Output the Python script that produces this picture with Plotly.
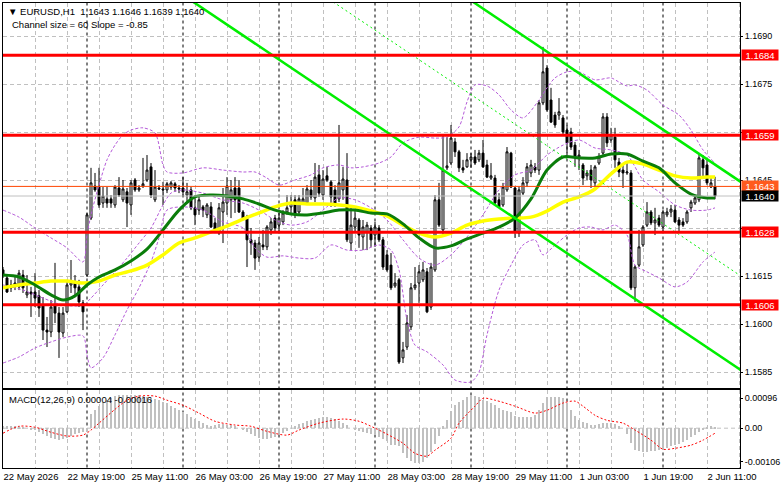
import plotly.graph_objects as go

FONT = "Liberation Sans, Arial, sans-serif"

# ---------------- data (EURUSD H1) ----------------
bars = list(range(179))

open_ = [1.16169,1.16144,1.16113,1.16122,1.16116,1.16153,1.16091,1.16100,1.16100,1.16088,
         1.16059,1.15981,1.15975,1.16059,1.16034,1.15972,1.16038,1.16122,1.16131,1.16116,
         1.16066,1.16153,1.16331,1.16431,1.16428,1.16378,1.16391,1.16391,1.16372,1.16425,
         1.16388,1.16413,1.16372,1.16450,1.16419,1.16431,1.16450,1.16491,1.16388,1.16425,
         1.16422,1.16419,1.16428,1.16438,1.16425,1.16425,1.16403,1.16419,1.16363,1.16356,
         1.16366,1.16341,1.16366,1.16316,1.16284,1.16350,1.16378,1.16388,1.16425,1.16425,
         1.16350,1.16331,1.16263,1.16253,1.16209,1.16247,1.16241,1.16294,1.16331,1.16309,
         1.16319,1.16350,1.16366,1.16388,1.16350,1.16378,1.16378,1.16419,1.16394,1.16466,
         1.16403,1.16463,1.16444,1.16419,1.16391,1.16419,1.16450,1.16253,1.16303,1.16325,
         1.16272,1.16288,1.16300,1.16278,1.16300,1.16263,1.16216,1.16184,1.16119,1.16138,
         1.15894,1.15928,1.15991,1.16113,1.16128,1.16138,1.16163,1.16053,1.16169,1.16388,
         1.16294,1.16488,1.16503,1.16569,1.16538,1.16488,1.16491,1.16513,1.16522,1.16513,
         1.16534,1.16497,1.16456,1.16456,1.16388,1.16372,1.16419,1.16534,1.16425,1.16284,
         1.16409,1.16441,1.16472,1.16491,1.16481,1.16691,1.16800,1.16700,1.16653,1.16653,
         1.16644,1.16606,1.16600,1.16559,1.16522,1.16497,1.16463,1.16481,1.16441,1.16503,
         1.16534,1.16647,1.16575,1.16584,1.16506,1.16481,1.16472,1.16472,1.16113,1.16184,
         1.16247,1.16309,1.16350,1.16316,1.16331,1.16303,1.16341,1.16350,1.16356,1.16325,
         1.16319,1.16319,1.16363,1.16378,1.16388,1.16513,1.16497,1.16428,1.16430]

high = [1.16178,1.16153,1.16138,1.16147,1.16169,1.16169,1.16153,1.16116,1.16159,1.16106,
        1.16084,1.16022,1.16075,1.16191,1.16053,1.16053,1.16138,1.16200,1.16153,1.16138,
        1.16075,1.16347,1.16488,1.16472,1.16488,1.16428,1.16428,1.16403,1.16434,1.16459,
        1.16450,1.16425,1.16450,1.16456,1.16434,1.16519,1.16528,1.16503,1.16481,1.16434,
        1.16444,1.16444,1.16447,1.16444,1.16434,1.16459,1.16441,1.16428,1.16403,1.16403,
        1.16372,1.16378,1.16381,1.16331,1.16378,1.16425,1.16459,1.16450,1.16459,1.16450,
        1.16356,1.16341,1.16300,1.16263,1.16272,1.16294,1.16309,1.16331,1.16341,1.16347,
        1.16356,1.16403,1.16403,1.16403,1.16403,1.16425,1.16434,1.16450,1.16503,1.16497,
        1.16481,1.16491,1.16450,1.16434,1.16622,1.16491,1.16534,1.16363,1.16356,1.16331,
        1.16325,1.16319,1.16309,1.16319,1.16309,1.16272,1.16231,1.16222,1.16159,1.16144,
        1.15944,1.16028,1.16128,1.16178,1.16184,1.16194,1.16175,1.16191,1.16403,1.16441,
        1.16591,1.16584,1.16622,1.16581,1.16544,1.16513,1.16534,1.16534,1.16544,1.16544,
        1.16575,1.16513,1.16503,1.16466,1.16409,1.16441,1.16553,1.16538,1.16428,1.16428,
        1.16459,1.16503,1.16513,1.16503,1.16700,1.16866,1.16809,1.16738,1.16663,1.16706,
        1.16653,1.16622,1.16613,1.16569,1.16544,1.16503,1.16481,1.16497,1.16497,1.16534,
        1.16659,1.16659,1.16613,1.16613,1.16519,1.16503,1.16506,1.16481,1.16184,1.16294,
        1.16309,1.16381,1.16356,1.16363,1.16341,1.16356,1.16363,1.16372,1.16372,1.16334,
        1.16331,1.16356,1.16388,1.16403,1.16534,1.16528,1.16513,1.16459,1.16460]

low = [1.16144,1.16097,1.16100,1.16106,1.16106,1.16097,1.16081,1.16022,1.16053,1.16022,
       1.15950,1.15928,1.15959,1.16003,1.15894,1.15959,1.16034,1.16097,1.16084,1.16053,
       1.15981,1.16147,1.16325,1.16413,1.16363,1.16363,1.16363,1.16363,1.16363,1.16397,
       1.16381,1.16303,1.16341,1.16413,1.16413,1.16425,1.16444,1.16394,1.16381,1.16419,
       1.16372,1.16409,1.16419,1.16413,1.16409,1.16397,1.16378,1.16356,1.16309,1.16341,
       1.16334,1.16331,1.16300,1.16284,1.16278,1.16253,1.16341,1.16331,1.16347,1.16347,
       1.16325,1.16178,1.16216,1.16169,1.16194,1.16231,1.16231,1.16278,1.16288,1.16284,
       1.16309,1.16341,1.16347,1.16331,1.16341,1.16372,1.16375,1.16388,1.16381,1.16397,
       1.16388,1.16444,1.16366,1.16366,1.16381,1.16388,1.16256,1.16231,1.16288,1.16238,
       1.16231,1.16231,1.16241,1.16241,1.16256,1.16169,1.16163,1.16106,1.16113,1.15875,
       1.15878,1.15919,1.15981,1.16106,1.16066,1.16131,1.16034,1.16044,1.16163,1.16303,
       1.16272,1.16481,1.16497,1.16522,1.16475,1.16472,1.16488,1.16488,1.16497,1.16506,
       1.16488,1.16456,1.16450,1.16372,1.16363,1.16366,1.16413,1.16425,1.16269,1.16272,
       1.16403,1.16428,1.16459,1.16472,1.16466,1.16684,1.16663,1.16628,1.16613,1.16638,
       1.16591,1.16534,1.16544,1.16491,1.16481,1.16434,1.16450,1.16425,1.16428,1.16497,
       1.16528,1.16553,1.16566,1.16488,1.16459,1.16425,1.16466,1.16106,1.16069,1.16178,
       1.16241,1.16303,1.16309,1.16278,1.16303,1.16288,1.16334,1.16334,1.16316,1.16288,
       1.16303,1.16313,1.16350,1.16372,1.16381,1.16456,1.16434,1.16425,1.16390]

close = [1.16153,1.16100,1.16122,1.16128,1.16159,1.16113,1.16100,1.16094,1.16081,1.16050,
         1.15981,1.15975,1.16053,1.16034,1.15975,1.16034,1.16122,1.16131,1.16113,1.16069,
         1.16038,1.16341,1.16441,1.16419,1.16372,1.16400,1.16378,1.16378,1.16428,1.16403,
         1.16422,1.16378,1.16441,1.16419,1.16425,1.16438,1.16481,1.16403,1.16428,1.16422,
         1.16419,1.16438,1.16441,1.16425,1.16422,1.16413,1.16413,1.16363,1.16341,1.16388,
         1.16356,1.16372,1.16303,1.16288,1.16363,1.16381,1.16431,1.16419,1.16388,1.16350,
         1.16331,1.16263,1.16253,1.16206,1.16253,1.16241,1.16303,1.16319,1.16300,1.16331,
         1.16347,1.16363,1.16378,1.16341,1.16391,1.16391,1.16422,1.16397,1.16459,1.16409,
         1.16453,1.16450,1.16397,1.16378,1.16441,1.16453,1.16263,1.16309,1.16331,1.16278,
         1.16303,1.16309,1.16263,1.16303,1.16263,1.16178,1.16169,1.16113,1.16128,1.15881,
         1.15919,1.16003,1.16113,1.16122,1.16163,1.16169,1.16038,1.16178,1.16388,1.16309,
         1.16481,1.16494,1.16581,1.16538,1.16488,1.16481,1.16513,1.16522,1.16503,1.16534,
         1.16491,1.16459,1.16463,1.16378,1.16366,1.16428,1.16538,1.16428,1.16288,1.16419,
         1.16441,1.16491,1.16497,1.16481,1.16691,1.16788,1.16669,1.16631,1.16622,1.16663,
         1.16600,1.16566,1.16553,1.16522,1.16528,1.16456,1.16472,1.16450,1.16491,1.16522,
         1.16647,1.16566,1.16591,1.16513,1.16475,1.16472,1.16475,1.16113,1.16178,1.16241,
         1.16303,1.16350,1.16316,1.16325,1.16309,1.16350,1.16350,1.16359,1.16319,1.16309,
         1.16309,1.16350,1.16381,1.16394,1.16519,1.16488,1.16441,1.16441,1.16400]

# moving averages (read at sample bars)
ma_green_bars = [0,4,8,12,15,18,21,24,28,32,36,40,44,48,52,56,60,64,68,72,76,80,84,88,92,96,
                 100,104,108,112,116,120,124,128,132,136,140,144,148,152,156,160,164,168,172,176,178]
ma_green_vals = [1.16153,1.16147,1.16122,1.16091,1.16075,1.16088,1.16122,1.16147,1.16169,1.16197,
                 1.16234,1.16294,1.16356,1.16397,1.16403,1.16400,1.16391,1.16375,1.16356,1.16344,
                 1.16341,1.16347,1.16356,1.16356,1.16347,1.16344,1.16313,1.16269,1.16238,1.16244,
                 1.16266,1.16284,1.16303,1.16331,1.16391,1.16481,1.16522,1.16519,1.16519,1.16531,
                 1.16531,1.16509,1.16488,1.16441,1.16406,1.16394,1.16394]

ma_yellow_bars = [0,4,8,12,16,20,24,28,32,36,40,44,48,52,56,60,64,68,72,76,80,84,88,92,96,
                  100,104,108,112,116,120,124,128,132,136,140,144,148,152,156,160,164,168,172,176,178]
ma_yellow_vals = [1.16113,1.16122,1.16128,1.16134,1.16134,1.16128,1.16134,1.16153,1.16166,1.16184,
                  1.16216,1.16253,1.16269,1.16288,1.16306,1.16328,1.16347,1.16366,1.16378,1.16375,
                  1.16375,1.16372,1.16366,1.16353,1.16338,1.16309,1.16284,1.16272,1.16284,1.16309,
                  1.16322,1.16328,1.16331,1.16334,1.16353,1.16381,1.16397,1.16422,1.16469,1.16506,
                  1.16500,1.16481,1.16463,1.16456,1.16459,1.16459]

# Bollinger bands (read at sample bars)
bb_up_bars = [0,4,8,12,16,20,21,22,24,26,28,30,32,35,38,40,41,45,50,55,60,63,66,69,73,77,80,84,87,90,
              94,97,100,104,108,111,114,116,118,121,124,127,130,134,136,138,141,144,148,152,154,156,
              158,161,165,169,172,175,178]
bb_up_vals = [1.16356,1.16334,1.16300,1.16269,1.16238,1.16194,1.16278,1.16341,1.16434,1.16513,
              1.16559,1.16591,1.16606,1.16613,1.16597,1.16497,1.16475,1.16472,1.16488,1.16481,
              1.16475,1.16475,1.16456,1.16434,1.16450,1.16466,1.16488,1.16497,1.16488,1.16491,
              1.16503,1.16522,1.16566,1.16584,1.16581,1.16584,1.16616,1.16694,1.16747,1.16744,
              1.16716,1.16669,1.16644,1.16700,1.16738,1.16769,1.16788,1.16788,1.16763,1.16769,
              1.16756,1.16744,1.16747,1.16731,1.16684,1.16653,1.16606,1.16544,1.16503]

bb_mid_bars = [0,5,10,15,20,22,25,28,31,34,37,40,42,45,50,55,60,64,68,72,76,80,84,88,92,96,
               100,104,108,112,116,120,124,128,132,136,140,144,148,152,156,160,164,168,172,176,178]
bb_mid_vals = [1.16122,1.16106,1.16081,1.16059,1.16059,1.16081,1.16122,1.16163,1.16206,1.16253,
               1.16300,1.16372,1.16409,1.16419,1.16409,1.16388,1.16378,1.16356,1.16325,1.16309,
               1.16319,1.16356,1.16394,1.16388,1.16363,1.16325,1.16263,1.16206,1.16184,1.16216,
               1.16272,1.16341,1.16419,1.16466,1.16481,1.16528,1.16559,1.16575,1.16550,1.16544,
               1.16528,1.16450,1.16413,1.16372,1.16356,1.16356,1.16363]

bb_low_bars = [0,4,8,12,16,20,21,22,25,28,31,34,37,39,41,45,50,55,60,63,66,70,74,78,82,86,90,94,97,
               99,101,103,106,110,113,117,119,121,124,127,130,133,135,138,141,144,147,150,153,156,
               158,161,164,168,171,175,178]
bb_low_vals = [1.15878,1.15897,1.15925,1.15944,1.15959,1.15963,1.15903,1.15863,1.15894,1.15966,
               1.16044,1.16113,1.16194,1.16269,1.16356,1.16366,1.16356,1.16319,1.16300,1.16238,
               1.16209,1.16213,1.16206,1.16206,1.16247,1.16231,1.16231,1.16247,1.16231,1.16169,
               1.16013,1.15934,1.15913,1.15872,1.15825,1.15819,1.15850,1.15966,1.16106,1.16184,
               1.16247,1.16263,1.16216,1.16247,1.16278,1.16300,1.16303,1.16294,1.16309,1.16278,
               1.16184,1.16163,1.16144,1.16116,1.16131,1.16194,1.16225]

# MACD(12,26,9)
macd_hist = [0.00006,0.00006,0.00006,0.00006,0.00006,0.00003,0.0,-0.00003,-0.00006,-0.00013,
             -0.00019,-0.00025,-0.00032,-0.00035,-0.00038,-0.00035,-0.00032,-0.00025,-0.00019,-0.00016,
             -0.00013,-0.0001,0.00045,0.00057,0.0007,0.00083,0.00089,0.00095,0.00102,0.00105,
             0.00105,0.00105,0.00105,0.00105,0.00105,0.00102,0.00099,0.00095,0.00092,0.00089,
             0.00083,0.0008,0.0007,0.00064,0.00057,0.00051,0.00045,0.00035,0.00029,0.00022,
             0.00016,0.0001,0.00006,0.0001,0.00013,0.00013,0.0001,0.0001,0.00006,0.0,
             -0.00006,-0.00013,-0.00019,-0.00025,-0.00032,-0.00035,-0.00035,-0.00032,-0.00029,-0.00022,
             -0.00016,-0.0001,0.0,0.00006,0.00013,0.00016,0.00022,0.00025,0.00029,0.00032,
             0.00035,0.00035,0.00032,0.00029,0.00022,0.00016,0.0001,0.0,-0.00006,-0.0001,
             -0.00013,-0.00016,-0.00019,-0.00022,-0.00029,-0.00035,-0.00041,-0.00054,-0.00054,-0.00057,
             -0.0008,-0.00095,-0.00105,-0.00111,-0.00111,-0.00108,-0.00095,-0.00076,-0.00051,-0.00025,
             0.00006,0.00025,0.00054,0.00073,0.00083,0.00089,0.00099,0.00102,0.00102,0.00099,
             0.00089,0.00086,0.0008,0.00073,0.00064,0.00057,0.00054,0.00051,0.00038,0.00035,
             0.00035,0.00035,0.00035,0.00041,0.00057,0.0008,0.00099,0.00099,0.00099,0.00099,
             0.00095,0.0008,0.00057,0.00038,0.00025,0.00019,0.00016,0.0001,0.0001,0.00013,
             0.00016,0.00016,0.00016,0.00013,0.00006,0.0,-0.00019,-0.00048,-0.0007,-0.00073,
             -0.00076,-0.00076,-0.00073,-0.00073,-0.0007,-0.00067,-0.00064,-0.00057,-0.00054,-0.00051,
             -0.00045,-0.00038,-0.00029,-0.00022,-0.00013,-0.00006,0.00003,0.00006,0.00004]

signal_bars = [0,4,8,12,16,20,22,24,28,31,34,38,41,45,49,53,58,62,66,71,74,79,85,89,93,96,
               100,103,106,108,112,114,118,120,123,128,133,136,140,143,145,148,151,155,158,162,
               165,168,172,175,178]
signal_vals = [-0.00016,0.00006,0.00003,-0.00013,-0.00025,-0.00022,-0.00006,0.00016,0.0006,0.00089,
               0.00102,0.00102,0.00089,0.00073,0.00048,0.00022,0.0001,0.00006,-0.0001,-0.00022,
               -0.00006,0.00016,0.00029,0.00022,0.0,-0.00019,-0.00048,-0.0008,-0.00089,-0.0007,
               -0.00032,0.00016,0.0007,0.00095,0.00089,0.0007,0.00048,0.00057,0.0008,0.00086,
               0.0007,0.00041,0.00025,0.00016,-0.00006,-0.00038,-0.00067,-0.00064,-0.00054,-0.00038,
               -0.00016]

# regression channel (two anchor bars)
channel_bars = [40, 186]
channel_lower = [1.17070, 1.15843]
channel_mid = [1.17364, 1.16137]
channel_upper = [1.17658, 1.16431]

# horizontal levels
levels = [1.1684, 1.1659, 1.16287, 1.1606]
level_text = ["1.1684", "1.1659", "1.1628", "1.1606"]
orange_level, orange_text = 1.1643, "1.1643"
bid_level, bid_text = 1.1640, "1.1640"

# axes (1.1660 / 1.1630 labels sit under the level boxes, so only their grid lines show)
price_ticks = [1.1585, 1.1600, 1.1615, 1.1630, 1.1645, 1.1660, 1.1675, 1.1690]
price_tick_text = ["1.1585", "1.1600", "1.1615", "", "1.1645", "", "1.1675", "1.1690"]
macd_ticks = [0.00096, 0.0, -0.00106]
macd_tick_text = ["0.00096", "0.00", "-0.00106"]
grid_bars = list(range(0, 185, 8))
label_bars = [0, 16, 32, 48, 64, 80, 96, 112, 128, 144, 160, 176]
time_labels = ["22 May 2026", "22 May 19:00", "25 May 11:00", "26 May 03:00", "26 May 19:00",
               "27 May 11:00", "28 May 03:00", "28 May 19:00", "29 May 11:00", "1 Jun 03:00",
               "1 Jun 19:00", "2 Jun 11:00"]
day_start_bars = [21, 45, 69, 93, 117, 141, 165]

header = "\u25bc EURUSD,H1  1.1643 1.1646 1.1639 1.1640"
subheader = "Channel size = 60 Slope = -0.85"
macd_label = "MACD(12,26,9) 0.00004 -0.00016"

# ---------------- figure ----------------
W, H = 781, 489
X0, X1 = 3 / W, 740 / W
MAIN = [1 - 388 / H, 1 - 2.5 / H]
SUB = [1 - 467.5 / H, 1 - 390 / H]

fig = go.Figure()

bb_style = dict(color="#B45AD8", width=1, dash="3px,2px")
for bx, by in ((bb_up_bars, bb_up_vals), (bb_mid_bars, bb_mid_vals), (bb_low_bars, bb_low_vals)):
    fig.add_trace(go.Scatter(x=bx, y=by, mode="lines", hoverinfo="skip",
                             line=dict(shape="spline", smoothing=0.8, **bb_style)))

fig.add_trace(go.Candlestick(
    x=bars, open=open_, high=high, low=low, close=close,
    increasing=dict(line=dict(color="black", width=1), fillcolor="white"),
    decreasing=dict(line=dict(color="black", width=1), fillcolor="black"),
    whiskerwidth=0, hoverinfo="skip", xaxis="x", yaxis="y"))

fig.add_trace(go.Scatter(x=ma_yellow_bars, y=ma_yellow_vals, mode="lines",
                         line=dict(color="#FFFF00", width=3.5, shape="spline", smoothing=0.8), hoverinfo="skip"))
fig.add_trace(go.Scatter(x=ma_green_bars, y=ma_green_vals, mode="lines",
                         line=dict(color="#0A7D0A", width=3, shape="spline", smoothing=0.8), hoverinfo="skip"))

fig.add_trace(go.Scatter(x=channel_bars, y=channel_lower, mode="lines", line=dict(color="#00EE00", width=2.5), hoverinfo="skip"))
fig.add_trace(go.Scatter(x=channel_bars, y=channel_upper, mode="lines", line=dict(color="#00EE00", width=2.5), hoverinfo="skip"))
fig.add_trace(go.Scatter(x=channel_bars, y=channel_mid, mode="lines", line=dict(color="#00EE00", width=1, dash="2px,3px"), hoverinfo="skip"))

# MACD pane
fig.add_trace(go.Bar(x=bars, y=macd_hist, marker=dict(color="#C0C0C0", line=dict(width=0)), width=0.55,
                     xaxis="x2", yaxis="y2", hoverinfo="skip"))
fig.add_trace(go.Scatter(x=signal_bars, y=signal_vals, mode="lines", xaxis="x2", yaxis="y2",
                         line=dict(color="#FF0000", width=1, dash="2px,2px", shape="spline", smoothing=0.8), hoverinfo="skip"))

shapes = []
for b in day_start_bars:
    shapes.append(dict(type="line", xref="x", yref="paper", x0=b, x1=b, y0=SUB[0], y1=MAIN[1],
                       line=dict(color="black", width=1, dash="3px,3px"), layer="below"))
for lv in levels:
    shapes.append(dict(type="line", xref="x domain", yref="y", x0=0, x1=1, y0=lv, y1=lv,
                       line=dict(color="#FF0000", width=3), layer="above"))
shapes.append(dict(type="line", xref="x domain", yref="y", x0=0, x1=1, y0=orange_level, y1=orange_level,
                   line=dict(color="#FF4500", width=1), layer="above"))
shapes.append(dict(type="line", xref="x domain", yref="y", x0=0, x1=1, y0=bid_level, y1=bid_level,
                   line=dict(color="#C0C0C0", width=1), layer="above"))
shapes.append(dict(type="line", xref="x2 domain", yref="y2", x0=0, x1=1, y0=0, y1=0,
                   line=dict(color="#C0C0C0", width=1, dash="4px,3px"), layer="below"))

annotations = []
def axis_box(val, text, bg):
    annotations.append(dict(x=741 / W, xref="paper", xanchor="left", y=val, yref="y", yanchor="middle",
                            text=text, showarrow=False, bgcolor=bg, width=36, height=10, borderpad=0,
                            align="center", font=dict(color="white", size=9.5, family=FONT)))
for lv, t in zip(levels, level_text):
    axis_box(lv, t, "#FF0000")
axis_box(orange_level, orange_text, "#FF5A1E")
axis_box(bid_level, bid_text, "#000000")

annotations.append(dict(x=6 / W, xref="paper", xanchor="left", y=1 - 11 / H, yref="paper", yanchor="middle",
                        text=header, showarrow=False, font=dict(color="black", size=9.5, family=FONT)))
annotations.append(dict(x=10 / W, xref="paper", xanchor="left", y=1 - 24 / H, yref="paper", yanchor="middle",
                        text=subheader, showarrow=False, font=dict(color="black", size=9.5, family=FONT)))
annotations.append(dict(x=7 / W, xref="paper", xanchor="left", y=1 - 399 / H, yref="paper", yanchor="middle",
                        text=macd_label, showarrow=False, font=dict(color="black", size=9.5, family=FONT)))

label_map = dict(zip(label_bars, time_labels))
x_ticktext = [label_map.get(b, "") for b in grid_bars]

grid = dict(showgrid=True, gridcolor="#C0C0C0", gridwidth=1, griddash="4px,3px")
frame = dict(showline=True, linecolor="black", linewidth=1, mirror=True, zeroline=False,
             fixedrange=True, automargin=False)

fig.update_layout(
    width=W, height=H, margin=dict(l=0, r=0, t=0, b=0, autoexpand=False),
    paper_bgcolor="white", plot_bgcolor="white", showlegend=False,
    font=dict(family=FONT, size=9.5, color="black"),
    shapes=shapes, annotations=annotations, bargap=0,
    xaxis=dict(domain=[X0, X1], range=[0, 184.25], anchor="y", tickvals=grid_bars,
               showticklabels=False, ticks="", rangeslider=dict(visible=False), **grid, **frame),
    yaxis=dict(domain=MAIN, range=[1.158, 1.170047], anchor="x", side="right",
               tickvals=price_ticks, ticktext=price_tick_text, ticks="outside", ticklen=2,
               tickcolor="black", tickfont=dict(size=9, family=FONT), **grid, **frame),
    xaxis2=dict(domain=[X0, X1], range=[0, 184.25], anchor="y2", matches="x", tickvals=grid_bars,
                ticktext=x_ticktext, ticklabelposition="outside right", ticks="", tickangle=0,
                tickfont=dict(size=9.5, family=FONT), **grid, **frame),
    yaxis2=dict(domain=SUB, range=[-0.001251, 0.0012145], anchor="x2", side="right",
                tickvals=macd_ticks, ticktext=macd_tick_text, ticks="outside", ticklen=2,
                tickcolor="black", showgrid=False, tickfont=dict(size=9, family=FONT), **frame),
)

fig.write_html("out.html")
